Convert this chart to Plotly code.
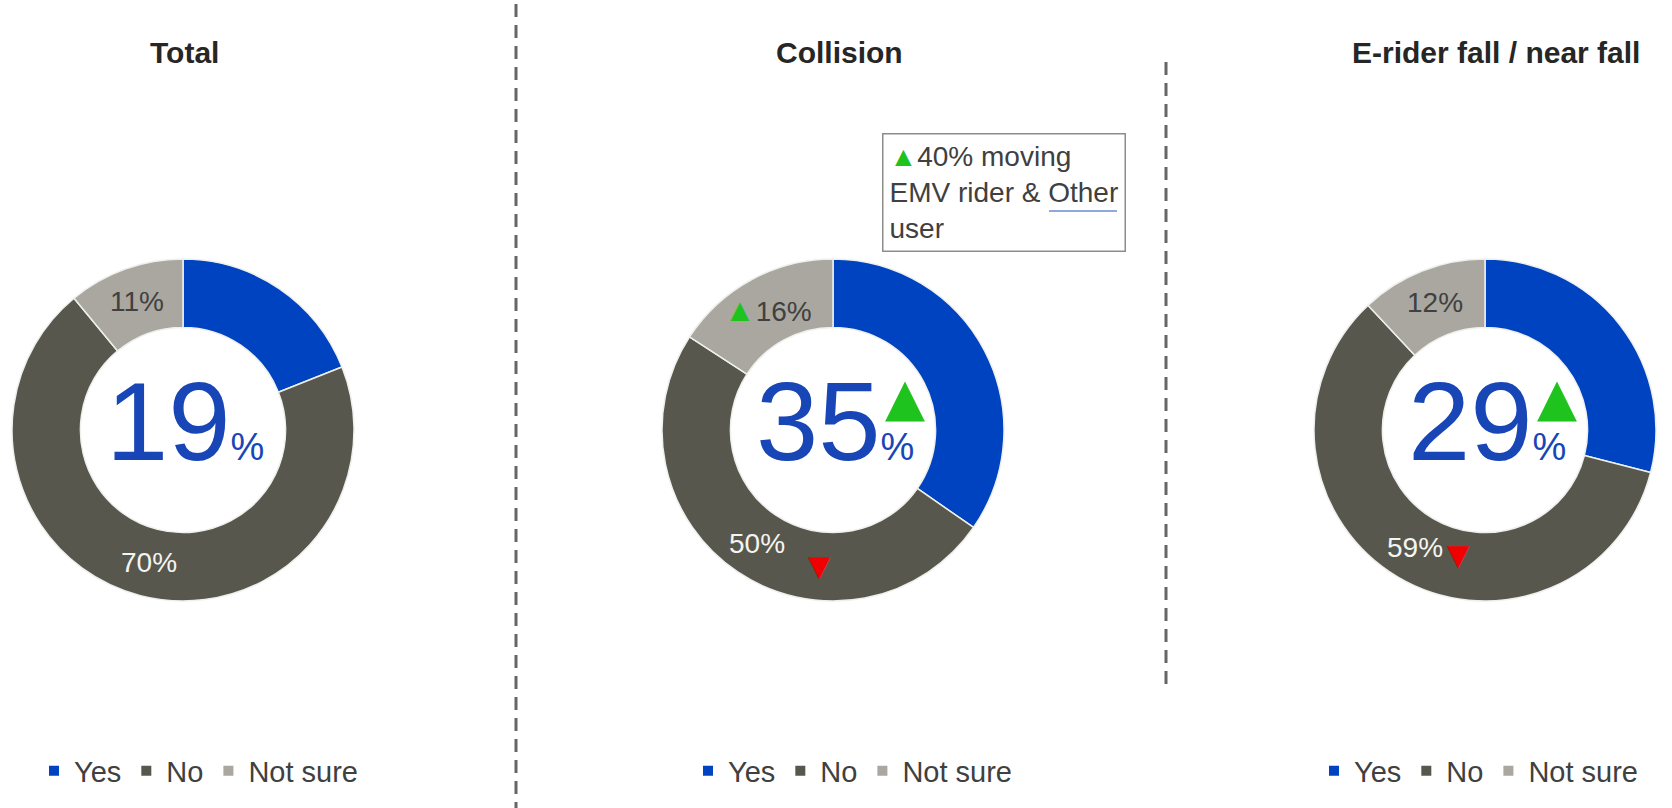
import math
import plotly.graph_objects as go

# ---- data ----
categories = ["Yes", "No", "Not sure"]
panel_titles = ["Total", "Collision", "E-rider fall / near fall"]
total_vals = [19, 70, 11]
collision_vals = [35, 50, 16]
erider_vals = [29, 59, 12]
note_value = 40  # moving EMV rider & other user

# ---- layout constants (pixels) ----
W, H = 1672, 808
FONT = "Liberation Sans, Arial, sans-serif"
centers_x = [183, 833, 1485]
center_y = 430
R = 171
HOLE = 0.6
BLUE, DARK, LIGHT = "#0043C0", "#58574E", "#A9A79F"
NUM_BLUE = "#1846B6"
GREEN, RED = "#1EC31E", "#F00000"
colors = [BLUE, DARK, LIGHT]


def px(x):
    return x / W


def py(y):
    return 1 - y / H


fig = go.Figure()
series = [total_vals, collision_vals, erider_vals]
legend_ids = ["legend", "legend2", "legend3"]

for vals, cx in zip(series, centers_x):
    fig.add_trace(go.Pie(
        labels=categories,
        values=vals,
        hole=HOLE,
        sort=False,
        direction="clockwise",
        rotation=0,
        marker=dict(colors=colors, line=dict(color="#EEF0EC", width=1.5)),
        textinfo="none",
        hoverinfo="label+value",
        domain=dict(x=[px(cx - R), px(cx + R)], y=[py(center_y + R), py(center_y - R)]),
        showlegend=False,
    ))

# One legend per panel (square swatches)
for lg in legend_ids:
    for cat, col in zip(categories, colors):
        fig.add_trace(go.Scatter(
            x=[None], y=[None], mode="markers", name=cat,
            marker=dict(symbol="square", size=10, color=col),
            legend=lg, showlegend=True, hoverinfo="skip",
        ))

annotations = []


def slice_label_pos(vals, idx, cx):
    """Mid-ring position of slice idx (clockwise from 12 o'clock)."""
    total = sum(vals)
    start = sum(vals[:idx])
    frac = (start + vals[idx] / 2) / total
    th = 2 * math.pi * frac
    r = R * (1 + HOLE) / 2
    return cx + r * math.sin(th), center_y - r * math.cos(th)


def add_label(vals, idx, cx, color, prefix=""):
    x, y = slice_label_pos(vals, idx, cx)
    annotations.append(dict(
        x=px(x), y=py(y), xref="paper", yref="paper", showarrow=False,
        xanchor="center", yanchor="middle",
        text=prefix + f"{vals[idx]}%",
        font=dict(family=FONT, size=28, color=color),
    ))
    return x, y


# Slice labels (No / Not sure)
add_label(total_vals, 1, centers_x[0], "#F4F4F0")
add_label(total_vals, 2, centers_x[0], "#404040")
x50, y50 = add_label(collision_vals, 1, centers_x[1], "#F4F4F0")
add_label(collision_vals, 2, centers_x[1], "#404040",
          prefix=f"<span style='color:{GREEN};font-size:32px'>▲</span>")
x59, y59 = add_label(erider_vals, 1, centers_x[2], "#F4F4F0")
add_label(erider_vals, 2, centers_x[2], "#404040")

# Change arrows next to the "No" labels
for (x, y, dx, dy) in [(x50, y50, 63, 22), (x59, y59, 43, 7)]:
    annotations.append(dict(
        x=px(x + dx), y=py(y + dy), xref="paper", yref="paper", showarrow=False,
        xanchor="center", yanchor="middle", text="▼",
        font=dict(family="DejaVu Sans", size=29, color=RED),
    ))

# Big centre figures (Yes share)
for vals, cx in zip(series, centers_x):
    annotations.append(dict(
        x=px(cx + 2), y=py(421), xref="paper", yref="paper", showarrow=False,
        xanchor="center", yanchor="middle",
        text=f"{vals[0]}<span style='font-size:38px'>%</span>",
        font=dict(family=FONT, size=112, color=NUM_BLUE),
    ))

# Green up arrows beside Collision and E-rider figures
for cx in centers_x[1:]:
    annotations.append(dict(
        x=px(cx + 72), y=py(center_y - 33), xref="paper", yref="paper", showarrow=False,
        xanchor="center", yanchor="middle", text="▲",
        font=dict(family="DejaVu Sans", size=52, color=GREEN),
    ))

# Panel titles
for title, tx in zip(panel_titles, [184, 839, 1496]):
    annotations.append(dict(
        x=px(tx), y=py(52), xref="paper", yref="paper", showarrow=False,
        xanchor="center", yanchor="middle", text=f"<b>{title}</b>",
        font=dict(family=FONT, size=30, color="#262626"),
    ))

# Note box for Collision
annotations.append(dict(
    x=px(882), y=py(133), xref="paper", yref="paper", showarrow=False,
    xanchor="left", yanchor="top", align="left",
    text=(f"<span style='color:{GREEN}'>▲</span>{note_value}% moving<br>"
          "EMV rider &amp; Other<br>user"),
    font=dict(family=FONT, size=28, color="#404040"),
    bordercolor="#8C8C8C", borderwidth=1.5, borderpad=6, bgcolor="rgba(0,0,0,0)",
))

shapes = [
    dict(type="line", xref="paper", yref="paper", x0=px(516), x1=px(516), y0=py(4), y1=py(808),
         line=dict(color="#666666", width=3, dash="13px,8px")),
    dict(type="line", xref="paper", yref="paper", x0=px(1166), x1=px(1166), y0=py(62), y1=py(690),
         line=dict(color="#666666", width=3, dash="13px,8px")),
    # spell-check style underline beneath "Other" in the note box
    dict(type="line", xref="paper", yref="paper", x0=px(1049), x1=px(1117), y0=py(211), y1=py(211),
         line=dict(color="#8FA8E0", width=2), layer="above"),
]

legend_style = dict(
    orientation="h", xanchor="left", yanchor="middle",
    font=dict(family=FONT, size=29, color="#404040"),
    bgcolor="rgba(0,0,0,0)", itemclick=False, itemdoubleclick=False,
)

fig.update_layout(
    width=W, height=H,
    margin=dict(l=0, r=0, t=0, b=0),
    paper_bgcolor="white", plot_bgcolor="white",
    xaxis=dict(visible=False), yaxis=dict(visible=False),
    annotations=annotations, shapes=shapes,
    legend=dict(legend_style, x=px(34), y=py(771)),
    legend2=dict(legend_style, x=px(688), y=py(771)),
    legend3=dict(legend_style, x=px(1314), y=py(771)),
)

fig.write_html("out.html")
